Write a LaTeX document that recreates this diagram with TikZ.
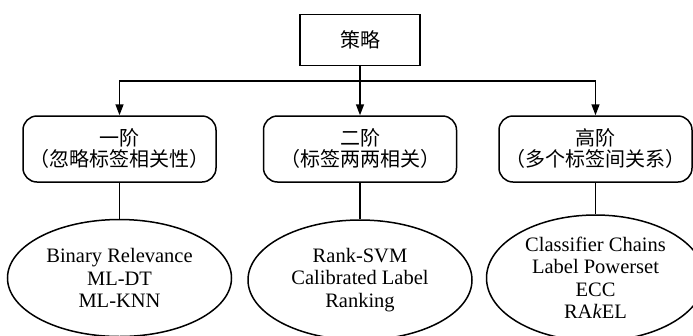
\documentclass[tikz,border=0pt]{standalone}
\usepackage{fontspec}
\setmainfont{Liberation Serif}
\newfontfamily\cjk{Noto Sans CJK SC}
\usetikzlibrary{shapes.geometric,arrows.meta}
\begin{document}
\begin{tikzpicture}[x=1pt,y=-1pt,
  line width=1.5pt,
  topbox/.style={draw,minimum width=120pt,minimum height=51pt,inner sep=0pt,font=\cjk\fontsize{20}{22}\selectfont},
  levelbox/.style={draw,rounded corners=14pt,minimum width=193pt,minimum height=66pt,inner sep=0pt,align=center,font=\cjk\fontsize{20}{21}\selectfont},
  algo/.style={draw,ellipse,inner sep=0pt,align=center,font=\rmfamily\fontsize{20.5}{22.5}\selectfont},
  arr/.style={-{Triangle[length=11pt,width=8pt]}}]
\useasboundingbox (0,0) rectangle (693,335);
\node[topbox] (root) at (360,40) {策略};
\node[levelbox] (l1) at (119.5,149) {一阶\\（忽略标签相关性）};
\node[levelbox] (l2) at (360,149) {二阶\\（标签两两相关）};
\node[levelbox] (l3) at (595.5,149) {高阶\\（多个标签间关系）};
\node[algo,minimum width=224pt,minimum height=117pt] (a1) at (119.5,278) {Binary Relevance\\ML-DT\\ML-KNN};
\node[algo,minimum width=224pt,minimum height=120pt] (a2) at (360,280) {Rank-SVM\\Calibrated Label\\Ranking};
\node[algo,minimum width=218pt,minimum height=126pt] (a3) at (595.5,278) {Classifier Chains\\Label Powerset\\ECC\\RA\textit{k}EL};
\coordinate (bar) at (0,81);
\draw[arr] (root.south) -- (l2.north);
\draw[arr] (l2.north |- bar) -| (l1.north);
\draw[arr] (l2.north |- bar) -| (l3.north);
\draw (l1) -- (a1);
\draw (l2) -- (a2);
\draw (l3) -- (a3);
\end{tikzpicture}
\end{document}
